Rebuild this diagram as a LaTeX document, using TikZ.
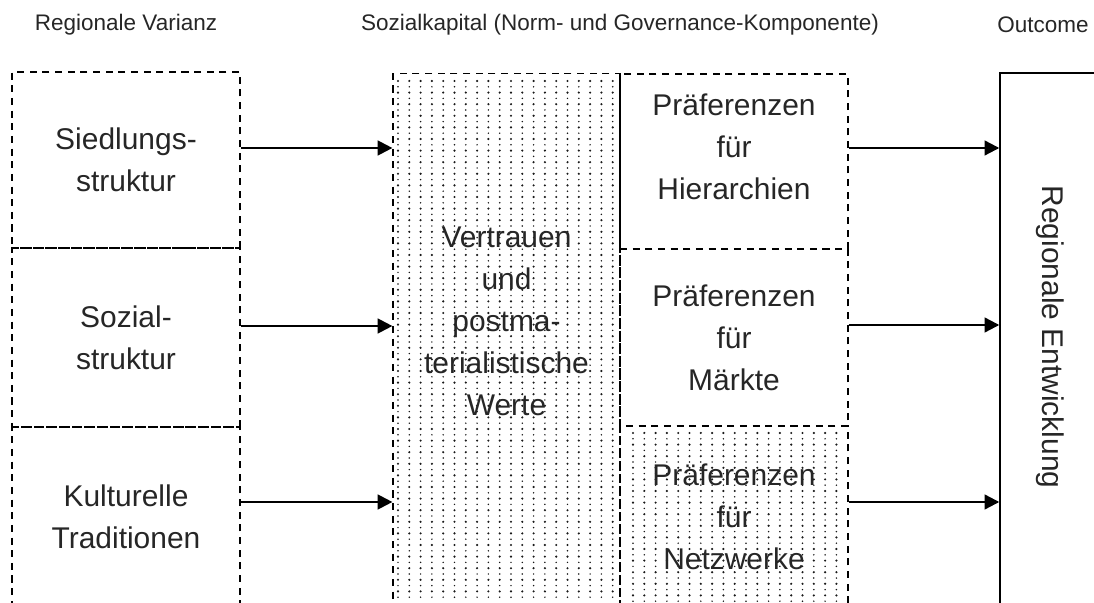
\documentclass[tikz,border=0pt]{standalone}
\usepackage{fontspec}
\setmainfont{Liberation Sans}
\usetikzlibrary{arrows.meta}

\tikzset{
  box/.style={draw, dash pattern=on 5pt off 4pt, line width=0.8pt, align=center,
    font=\fontsize{21.3}{29.9}\selectfont, text=black!85, inner sep=0pt},
  boxtext/.style={align=center, font=\fontsize{21.3}{29.9}\selectfont, text=black!85},
  head/.style={font=\fontsize{16}{18}\selectfont, text=black!85},
  dotfill/.style={fill=black!90},
  arr/.style={-{Triangle[length=10.5pt,width=10.5pt]}, line width=1.6pt},
}

\begin{document}
\begin{tikzpicture}[x=0.025cm, y=-0.025cm]
            \useasboundingbox (0,0) rectangle (1094,603);
            \clip (0,0) rectangle (1094,603);

            % column heads
            \node[head] (hvar) at (126,25) {Regionale Varianz};
            \node[head] (hsoz) at (620,25) {Sozialkapital (Norm- und Governance-Komponente)};
            \node[head] (hout) at (1043,25) {Outcome};

            % dotted areas (big and small dots in turn)
            \foreach \j in {0,...,44}
              \foreach \i in {0,...,19} {
                \fill[dotfill] ({398+11.3*\i},{81+11.6*\j}) circle (0.85pt);
                \fill[dotfill] ({398+11.3*\i},{86.8+11.6*\j}) circle (0.6pt);
              }
            \foreach \j in {0,...,14}
              \foreach \i in {0,...,18} {
                \fill[dotfill] ({633+11.3*\i},{433+11.6*\j}) circle (0.85pt);
                \fill[dotfill] ({633+11.3*\i},{438.8+11.6*\j}) circle (0.6pt);
              }

            % regional variance
            \node[box, minimum width=5.7cm, minimum height=4.4cm] (sied) at (126,160) {Siedlungs-\\struktur};
            \node[box, minimum width=5.7cm, minimum height=4.475cm] (sozi) at (126,337.5) {Sozial-\\struktur};
            \node[box, minimum width=5.7cm, minimum height=4.5cm] (kult) at (126,517) {Kulturelle\\Traditionen};

            % social capital
            \node[box, minimum width=5.675cm, minimum height=13.35cm] (vert) at (506.5,341) {};
            \node[boxtext] (verttxt) at (506.5,321) {Vertrauen\\und\\postma-\\terialistische\\Werte};
            \node[box, minimum width=5.7cm, minimum height=4.375cm] (hier) at (734,161.5) {};
            \node[boxtext] (hiertxt) at (734,147) {Präferenzen\\für\\Hierarchien};
            \node[box, dash phase=4.74pt, minimum width=5.7cm, minimum height=4.425cm] (mark) at (734,337.5) {Präferenzen\\für\\Märkte};
            \node[box, dash phase=5.44pt, minimum width=5.7cm, minimum height=4.55cm] (netz) at (734,517) {Präferenzen\\für\\Netzwerke};

            % outcome
            \node[draw, line width=1pt, inner sep=0pt, minimum width=3cm, minimum height=13.75cm] (outc) at (1060,348) {};
            \node[boxtext, rotate=-90] (outctxt) at (1050,337) {Regionale Entwicklung};

            \draw[arr] (sied.east |- 0,148) -- (vert.west |- 0,148);
            \draw[arr] (sozi.east |- 0,326) -- (vert.west |- 0,326);
            \draw[arr] (kult.east |- 0,502) -- (vert.west |- 0,502);
            \draw[arr] (hier.east |- 0,148) -- (outc.west |- 0,148);
            \draw[arr] (mark.east |- 0,325) -- (outc.west |- 0,325);
            \draw[arr] (netz.east |- 0,502) -- (outc.west |- 0,502);
        \end{tikzpicture}
\end{document}
